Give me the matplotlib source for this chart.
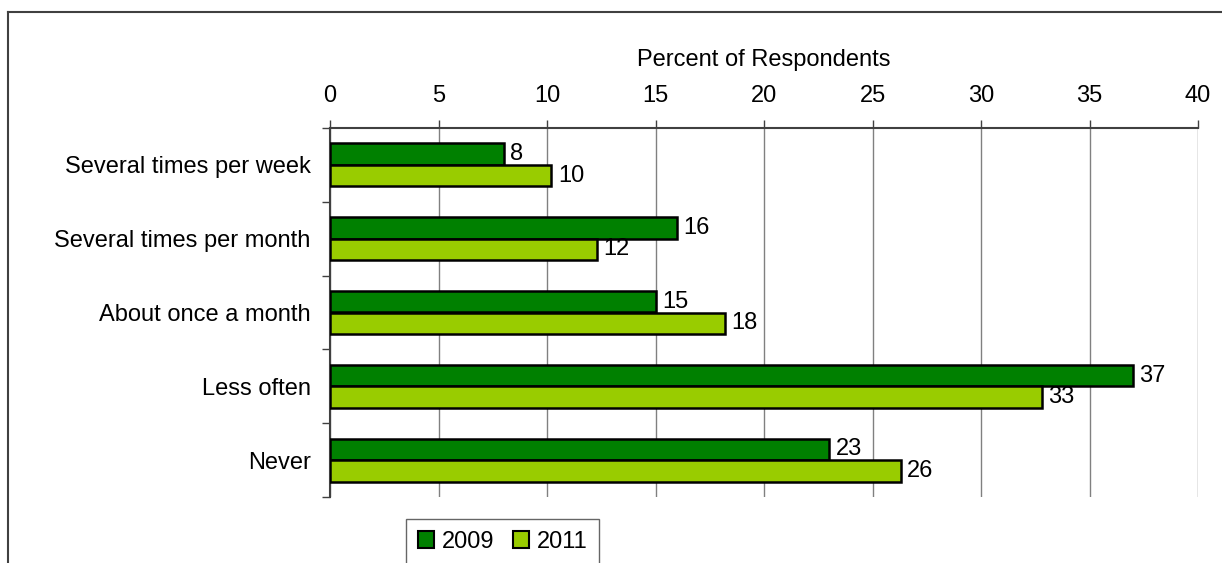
import matplotlib.pyplot as plt
import matplotlib.patches as mpatches
from matplotlib.lines import Line2D
import numpy as np

plt.rcParams['font.family'] = ['Liberation Sans', 'DejaVu Sans']

categorias = ['Several times per week', 'Several times per month',
              'About once a month', 'Less often', 'Never']
valores_2009 = [8.0, 16.0, 15.0, 37.0, 23.0]
valores_2011 = [10.2, 12.3, 18.2, 32.8, 26.3]
rotulos_2009 = ['8', '16', '15', '37', '23']
rotulos_2011 = ['10', '12', '18', '33', '26']
series = ['2009', '2011']

CORES = {'2009': '#008000', '2011': '#99CC00'}
FS = 17

fig = plt.figure(figsize=(12.22, 5.63), dpi=100)
ax = fig.add_axes([330 / 1222, 1 - 497 / 563, 868 / 1222, 369 / 563])

y = np.arange(len(categorias))
h = 0.29
ax.barh(y - h / 2, valores_2009, height=h, color=CORES['2009'],
        edgecolor='black', linewidth=1.8, zorder=3)
ax.barh(y + h / 2, valores_2011, height=h, color=CORES['2011'],
        edgecolor='black', linewidth=1.8, zorder=3)

for i in range(len(categorias)):
    ax.text(valores_2009[i] + 0.3, y[i] - h / 2, rotulos_2009[i],
            va='center', ha='left', fontsize=FS)
    ax.text(valores_2011[i] + 0.3, y[i] + h / 2, rotulos_2011[i],
            va='center', ha='left', fontsize=FS)

ax.set_xlim(0, 40)
ax.set_ylim(len(categorias) - 0.5, -0.5)
ax.set_xticks(range(0, 41, 5))
ax.xaxis.tick_top()
ax.xaxis.set_label_position('top')
ax.set_xlabel('Percent of Respondents', fontsize=FS, labelpad=14)
ax.tick_params(axis='x', labelsize=FS, length=6, width=1, color='#404040', pad=9)

ax.set_yticks(y)
ax.set_yticklabels(categorias, fontsize=FS)
ax.tick_params(axis='y', which='major', length=0, pad=14)
ax.set_yticks(np.arange(-0.5, len(categorias)), minor=True)
ax.tick_params(axis='y', which='minor', length=6, width=1, color='#404040')

ax.grid(axis='x', color='#808080', linewidth=1, zorder=0)
ax.set_axisbelow(True)
for lado in ['right', 'bottom']:
    ax.spines[lado].set_visible(False)
for lado in ['left', 'top']:
    ax.spines[lado].set_color('#404040')
    ax.spines[lado].set_linewidth(1.5)

patches = [mpatches.Patch(facecolor=CORES[s], edgecolor='black', linewidth=1.5, label=s)
           for s in series]
leg = fig.legend(handles=patches, loc='upper left', bbox_to_anchor=(406 / 1222, 1 - 519 / 563),
                 ncol=2, fontsize=FS, frameon=True, fancybox=False, handlelength=0.7,
                 handleheight=0.7, handletextpad=0.3, columnspacing=0.8,
                 borderpad=0.5, borderaxespad=0)
leg.get_frame().set_edgecolor('#404040')
leg.get_frame().set_linewidth(1)

# moldura externa
fig.add_artist(Line2D([8 / 1222, 1.0], [1 - 12 / 563, 1 - 12 / 563],
                      color='#404040', linewidth=1.5, transform=fig.transFigure))
fig.add_artist(Line2D([8 / 1222, 8 / 1222], [1 - 12 / 563, 0.0],
                      color='#404040', linewidth=1.5, transform=fig.transFigure))

plt.savefig('out.png', dpi=100)
